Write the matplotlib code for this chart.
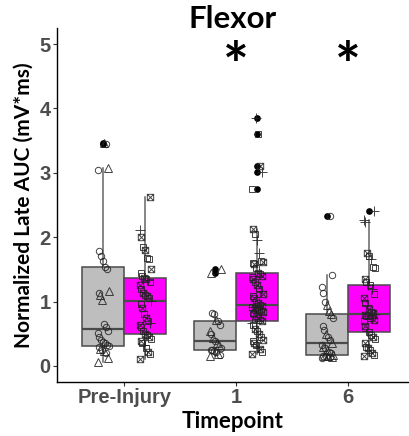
import numpy as np
import matplotlib
matplotlib.use("Agg")
import matplotlib.pyplot as plt
from matplotlib.path import Path

# ---------------- data ----------------
timepoints = ["Pre-Injury", "1", "6"]
groups = ["Control", "Treated"]

pre_ctrl = [0.06, 0.12, 0.20, 0.23, 0.25, 0.27, 0.29, 0.31, 0.33, 0.35, 0.37, 0.40, 0.45,
            0.51, 0.55, 0.60, 0.65, 1.03, 1.10, 1.13, 1.17, 1.50, 1.54, 1.63, 1.70, 1.78,
            3.05, 3.08, 3.45, 3.47]
pre_ctrl_shape = "^^o^o^" + "ooooooooooo" + "^^o^" + "oooooo" + "^o^"

pre_trt = [0.10, 0.18, 0.22, 0.28, 0.32, 0.35, 0.38, 0.42, 0.45, 0.48, 0.50, 0.55, 0.60,
           0.64, 0.67, 0.70, 0.74, 0.80, 0.90, 0.96, 1.01, 1.05, 1.08, 1.10, 1.14, 1.20,
           1.25, 1.30, 1.33, 1.35, 1.37, 1.40, 1.44, 1.50, 1.66, 1.68, 1.80, 1.84, 2.00,
           2.11, 2.63]
pre_trt_shape = "xsxs+sxsxs" + "xssx+sxsxs" + "+sxsxsxs+s" + "xssxssxsx+" + "x"

d1_ctrl = [0.15, 0.17, 0.19, 0.21, 0.23, 0.24, 0.25, 0.28, 0.33, 0.36, 0.39, 0.43, 0.50,
           0.55, 0.64, 0.70, 0.72, 0.80, 0.82, 1.45, 1.51]
d1_ctrl_shape = "^o^ooooo^^o^o^oo^oo^^"

d1_trt = [0.18, 0.22, 0.27, 0.30, 0.33, 0.36, 0.38, 0.40, 0.45, 0.50, 0.55, 0.58, 0.63,
          0.67, 0.70, 0.72, 0.75, 0.77, 0.80, 0.82, 0.84, 0.85, 0.87, 0.88, 0.90, 0.91,
          0.92, 0.93, 0.94, 0.98, 1.02, 1.05, 1.08, 1.12, 1.17, 1.20, 1.25, 1.30, 1.35,
          1.38, 1.40, 1.43, 1.45, 1.52, 1.58, 1.60, 1.62, 1.63, 1.75, 1.95, 2.05, 2.12,
          2.75, 3.02, 3.10, 3.60, 3.85]
d1_trt_shape = "xsx+sxsxsx" + "sxs+xsxsxs" + "xsxsx+sxsx" + "sxsx+sxsxs" + "xsxsxsxs++" + "sxs+xs+"

d6_ctrl = [0.13, 0.14, 0.14, 0.15, 0.15, 0.16, 0.16, 0.17, 0.20, 0.22, 0.25, 0.28, 0.30,
           0.33, 0.36, 0.40, 0.45, 0.50, 0.56, 0.62, 0.75, 0.80, 0.85, 0.95, 1.00, 1.14,
           1.23, 1.42, 2.33]
d6_ctrl_shape = "o^o^o^o^oo" + "^o^o^oo^oo" + "o^^^ooooo"

d6_trt = [0.15, 0.17, 0.20, 0.25, 0.28, 0.30, 0.35, 0.42, 0.45, 0.48, 0.52, 0.55, 0.62,
          0.70, 0.72, 0.74, 0.75, 0.77, 0.78, 0.79, 0.80, 0.82, 0.84, 0.88, 0.95, 0.98,
          1.05, 1.12, 1.20, 1.25, 1.26, 1.30, 1.35, 1.52, 1.53, 1.66, 1.70, 1.75, 2.23,
          2.27, 2.41]
d6_trt_shape = "xsxsxsxsxs" + "s+xsx+sxsx" + "+xsx+sxs+s" + "+sxss+sx++" + "+"

significant = [False, True, True]

# ---------------- style ----------------
W, H = 409, 436
fig = plt.figure(figsize=(W / 100, H / 100), dpi=100)
ax = fig.add_axes([57 / W, 1 - 382 / H, 1 - 57 / W, (382 - 28) / H])

box_fill = {"Control": "#BEBEBE", "Treated": "#FF00FF"}
edge = "#4A4A4A"
dodge = 0.1875
bw = 0.375

xsq = Path([(-1, -1), (1, -1), (1, 1), (-1, 1), (-1, -1), (-1, -1), (1, 1), (-1, 1), (1, -1)],
           [Path.MOVETO, Path.LINETO, Path.LINETO, Path.LINETO, Path.CLOSEPOLY,
            Path.MOVETO, Path.LINETO, Path.MOVETO, Path.LINETO])
marker_map = {"o": ("o", 4.6), "^": ("^", 5.6), "s": ("s", 4.6), "x": (xsq, 4.6), "+": ("+", 6.5)}

data = [(pre_ctrl, pre_ctrl_shape, pre_trt, pre_trt_shape),
        (d1_ctrl, d1_ctrl_shape, d1_trt, d1_trt_shape),
        (d6_ctrl, d6_ctrl_shape, d6_trt, d6_trt_shape)]

for i, (c, cs, t, ts) in enumerate(data):
    for vals, shapes, grp, off in ((c, cs, "Control", -dodge), (t, ts, "Treated", dodge)):
        pos = i + 1 + off
        ax.boxplot([vals], positions=[pos], widths=bw, patch_artist=True, whis=1.5,
                   showcaps=False, zorder=2,
                   boxprops=dict(facecolor=box_fill[grp], edgecolor=edge, linewidth=1.1),
                   medianprops=dict(color=edge, linewidth=1.6),
                   whiskerprops=dict(color="#666666", linewidth=1.1),
                   flierprops=dict(marker="o", markerfacecolor="black", markeredgecolor="black",
                                   markersize=3.8))
        vals = np.asarray(vals)
        n = len(vals)
        jit = (((np.arange(n) * 37) % 13) - 6) / 6 * 0.05
        for code in set(shapes):
            idx = np.array([k for k, s in enumerate(shapes) if s == code])
            m, ms = marker_map[code]
            ax.plot(pos + jit[idx], vals[idx], linestyle="none", marker=m, markersize=ms,
                    markerfacecolor="none", markeredgecolor="#222222", markeredgewidth=0.7,
                    alpha=0.85, zorder=3)

for i, sig in enumerate(significant):
    if sig:
        ax.text(i + 1, 4.62, "*", ha="center", va="center", fontsize=44, fontweight="bold",
                family="Lato", color="black")

ax.set_xlim(0.4, 0.4 + (W - 57) / 112)
ax.set_ylim(-0.25, 5.25)
ax.set_xticks([1, 2, 3])
ax.set_xticklabels(timepoints)
ax.set_yticks([0, 1, 2, 3, 4, 5])
for lab in ax.get_xticklabels() + ax.get_yticklabels():
    lab.set_fontsize(14.5)
    lab.set_fontweight("bold")
    lab.set_color("#4D4D4D")
    lab.set_family("Liberation Sans")
ax.tick_params(axis="both", length=3, width=0.8, color="#333333", pad=1.5)
for s in ("top", "right"):
    ax.spines[s].set_visible(False)
for s in ("left", "bottom"):
    ax.spines[s].set_linewidth(1.0)
    ax.spines[s].set_color("black")

ax.set_ylabel("Normalized Late AUC (mV*ms)", fontsize=15, fontweight="bold", family="Lato",
              labelpad=4)
ax.set_xlabel("Timepoint", fontsize=16, fontweight="bold", family="Lato", labelpad=3)
fig.text((57 + W) / 2 / W, 1 - 19 / H, "Flexor", ha="center", va="center", fontsize=22.5,
         fontweight="bold", family="Lato")

fig.savefig("out.png", dpi=100)
